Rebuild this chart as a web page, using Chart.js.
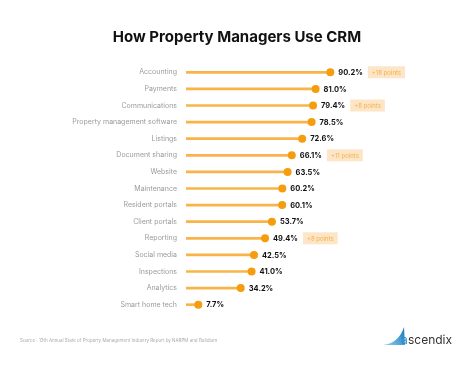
<!DOCTYPE html>
<html>
<head>
<meta charset="utf-8">
<script src="https://cdn.jsdelivr.net/npm/chart.js@4.4.1/dist/chart.umd.min.js"></script>
<style>
  html, body { margin: 0; padding: 0; background: #fff; }
  #wrap { width: 474px; height: 368px; position: relative; }
</style>
</head>
<body>
<div id="wrap"><canvas id="crmChart"></canvas></div>
<script>
// data
const categories = ['Accounting', 'Payments', 'Communications', 'Property management software',
  'Listings', 'Document sharing', 'Website', 'Maintenance', 'Resident portals', 'Client portals',
  'Reporting', 'Social media', 'Inspections', 'Analytics', 'Smart home tech'];
const usage = [90.2, 81.0, 79.4, 78.5, 72.6, 66.1, 63.5, 60.2, 60.1, 53.7, 49.4, 42.5, 41.0, 34.2, 7.7];
const changeBadges = ['+18 points', null, '+8 points', null, null, '+11 points', null, null, null, null,
  '+8 points', null, null, null, null];

const titleText = 'How Property Managers Use CRM';
const sourceText = 'Source : 13th Annual State of Property Management Industry Report by NARPM and Buildium';

// value labels, badges, title, footer
const extrasPlugin = {
  id: 'extras',
  afterDatasetsDraw(chart) {
    const ctx = chart.ctx;
    const xs = chart.scales.x, ys = chart.scales.y;
    ctx.save();
    usage.forEach((v, i) => {
      const x = xs.getPixelForValue(v);
      const y = ys.getPixelForValue(i);
      ctx.font = 'bold 7.5px Inter';
      ctx.fillStyle = '#111';
      ctx.textAlign = 'left';
      ctx.textBaseline = 'middle';
      const label = v.toFixed(1) + '%';
      ctx.fillText(label, x + 8, y + 0.5);
      const w = ctx.measureText(label).width;
      if (changeBadges[i]) {
        ctx.font = '6px Inter';
        const bw = ctx.measureText(changeBadges[i]).width + 8;
        const bx = x + 8 + w + 5;
        ctx.fillStyle = '#fde6c8';
        ctx.fillRect(bx, y - 6, bw, 12);
        ctx.fillStyle = '#f5b04a';
        ctx.fillText(changeBadges[i], bx + 4, y + 0.5);
      }
    });
    ctx.restore();
  },
  afterDraw(chart) {
    const ctx = chart.ctx;
    ctx.save();
    ctx.fillStyle = '#111';
    ctx.font = 'bold 15px Inter';
    ctx.textAlign = 'center';
    ctx.textBaseline = 'middle';
    ctx.fillText(titleText, 237, 37);

    ctx.font = '4.5px Inter';
    ctx.fillStyle = '#aaa';
    ctx.textAlign = 'left';
    ctx.fillText(sourceText, 20, 341);

    // logo
    const g = ctx.createLinearGradient(383, 345, 404, 327);
    g.addColorStop(0, '#8fd6f2');
    g.addColorStop(1, '#1677b8');
    ctx.fillStyle = g;
    ctx.beginPath();
    ctx.moveTo(383, 345);
    ctx.quadraticCurveTo(399, 343, 404, 327);
    ctx.lineTo(405, 345);
    ctx.closePath();
    ctx.fill();
    ctx.font = '12px Inter';
    ctx.fillStyle = '#1f8ccc';
    ctx.fillText('a', 401, 340);
    ctx.fillStyle = '#333';
    ctx.fillText('scendix', 408, 340);
    ctx.restore();
  }
};

new Chart(document.getElementById('crmChart'), {
  type: 'bar',
  data: {
    labels: categories,
    datasets: [
      {
        type: 'line',
        data: usage,
        showLine: false,
        pointRadius: 4,
        pointHoverRadius: 4,
        pointBackgroundColor: '#f59d0e',
        pointBorderWidth: 0
      },
      {
        data: usage,
        backgroundColor: '#f8b448',
        barThickness: 2
      }
    ]
  },
  options: {
    indexAxis: 'y',
    responsive: true,
    maintainAspectRatio: false,
    animation: false,
    layout: { padding: { top: 64, bottom: 55, right: 128, left: 0 } },
    plugins: {
      legend: { display: false },
      tooltip: { enabled: false }
    },
    scales: {
      x: { display: false, min: 0, max: 100 },
      y: {
        grid: { display: false, drawTicks: false },
        border: { display: false },
        ticks: { color: '#9a9a9a', font: { family: 'Inter', size: 7 }, padding: 9 },
        afterFit(scale) { scale.width = 186; }
      }
    }
  },
  plugins: [extrasPlugin]
});
</script>
</body>
</html>
